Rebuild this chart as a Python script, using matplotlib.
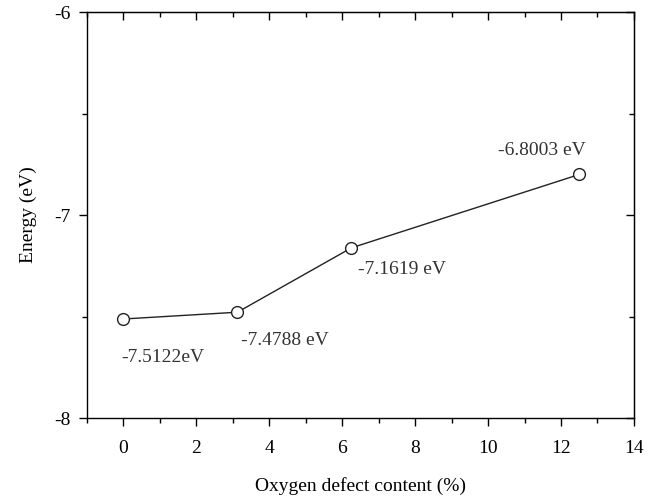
import matplotlib
matplotlib.use('Agg')
import matplotlib.pyplot as plt
from matplotlib.ticker import MultipleLocator

plt.rcParams['font.family'] = 'Liberation Serif'
plt.rcParams['font.size'] = 14
plt.rcParams['axes.unicode_minus'] = False

defect = [0, 3.125, 6.25, 12.5]
energy = [-7.5122, -7.4788, -7.1619, -6.8003]
labels = ['-7.5122eV', '-7.4788 eV', '-7.1619 eV', '-6.8003 eV']
label_pos = [(1.09, -7.704), (4.43, -7.62), (7.65, -7.266), (11.48, -6.68)]

fig = plt.figure(figsize=(6.61, 4.98), dpi=100)
ax = fig.add_axes([0.1316, 0.1606, 0.8275, 0.8153])

ax.plot(defect, energy, color='#222222', lw=1.0, marker='o', ms=8.5,
        mfc='white', mec='#222222', mew=1.0)

for txt, (tx, ty) in zip(labels, label_pos):
    ax.text(tx, ty, txt, ha='center', va='center', color='#333333')

ax.set_xlim(-1, 14)
ax.set_ylim(-8, -6)
ax.xaxis.set_major_locator(MultipleLocator(2))
ax.xaxis.set_minor_locator(MultipleLocator(1))
ax.yaxis.set_major_locator(MultipleLocator(1))
ax.yaxis.set_minor_locator(MultipleLocator(0.5))
ax.tick_params(which='major', direction='out', length=6, width=1, pad=10)
ax.tick_params(which='minor', direction='out', length=3.5, width=1)
ax.tick_params(axis='y', which='major', pad=6)

# inward ticks on the top and right spines
top = ax.secondary_xaxis('top')
top.xaxis.set_major_locator(MultipleLocator(2))
top.xaxis.set_minor_locator(MultipleLocator(1))
top.tick_params(which='major', direction='in', length=6, width=1, labeltop=False)
top.tick_params(which='minor', direction='in', length=3.5, width=1)
right = ax.secondary_yaxis('right')
right.yaxis.set_major_locator(MultipleLocator(1))
right.yaxis.set_minor_locator(MultipleLocator(0.5))
right.tick_params(which='major', direction='in', length=6, width=1, labelright=False)
right.tick_params(which='minor', direction='in', length=3.5, width=1)

for s in ax.spines.values():
    s.set_linewidth(1)

ax.set_xlabel('Oxygen defect content (%)', labelpad=14)
ax.set_ylabel('Energy (eV)', labelpad=12)

fig.savefig('out.png', dpi=100)
